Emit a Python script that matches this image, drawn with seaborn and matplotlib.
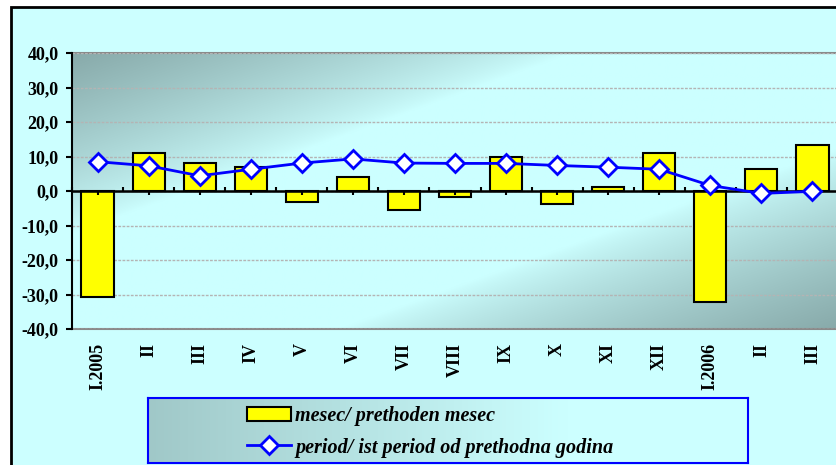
import numpy as np
import pandas as pd
import matplotlib
matplotlib.use("Agg")
import matplotlib.pyplot as plt
import seaborn as sns
from matplotlib.patches import Rectangle, Patch
from matplotlib.lines import Line2D
from matplotlib.ticker import FuncFormatter, MultipleLocator, FixedLocator

# ---- data ----
categories = ["I.2005", "II", "III", "IV", "V", "VI", "VII", "VIII", "IX",
              "X", "XI", "XII", "I.2006", "II", "III"]
mesec = [-30.6, 10.9, 8.0, 7.0, -3.1, 4.0, -5.4, -1.8, 9.9, -3.7, 1.2, 10.9,
         -32.1, 6.4, 13.3]
period = [8.5, 7.3, 4.4, 6.3, 8.1, 9.3, 8.1, 8.0, 8.0, 7.4, 6.9, 6.3, 1.6,
          -0.7, -0.1]
label_bar = "mesec/ prethoden mesec"
label_line = "period/ ist period od prethodna godina"

plt.rcParams['font.family'] = ['Liberation Serif', 'DejaVu Serif']

W, H = 836, 465
fig = plt.figure(figsize=(W / 100, H / 100), dpi=100, facecolor="white")

# outer frame
frame = Rectangle((11 / W, -0.1), 1.2, 1 - 7 / H + 0.1, transform=fig.transFigure,
                  facecolor="#ccffff", edgecolor="black", lw=2, zorder=-1)
fig.add_artist(frame)

ax = fig.add_axes([72 / W, (H - 329) / H, (838 - 72) / W, (329 - 53) / H])

# gradient background of the plot area
dark = np.array([136, 170, 170]) / 255
light = np.array([204, 255, 255]) / 255
n = 300
uu, vv = np.meshgrid(np.linspace(0, 1, n), np.linspace(1, 0, n))
t = (uu + (1 - vv)) / 2
d = np.abs(t - 0.5) * 2
w = np.clip((d - 0.35) / 0.65, 0, 1) ** 0.8
img = light[None, None, :] + (dark - light)[None, None, :] * w[..., None]
ax.imshow(img, extent=[0, 1, 0, 1], transform=ax.transAxes, aspect="auto",
          zorder=0, interpolation="bilinear")

df = pd.DataFrame({"pos": np.arange(len(categories)), "mesec": mesec,
                   "period": period})

sns.barplot(data=df, x="pos", y="mesec", color="#ffff00", edgecolor="black",
            linewidth=1.5, width=0.63, saturation=1, ax=ax, zorder=3)
ax.axhline(0, color="black", lw=1.8, zorder=4)
sns.lineplot(data=df, x="pos", y="period", color="#0000ff", lw=2, marker="D",
             markersize=9, markerfacecolor="white", markeredgecolor="#0000ff",
             markeredgewidth=2, ax=ax, zorder=5)

ax.set_xlim(-0.5, len(categories) - 0.5)
ax.set_ylim(-40, 40)
ax.set_xlabel("")
ax.set_ylabel("")

# grid
ax.yaxis.set_major_locator(MultipleLocator(10))
ax.grid(axis="y", color="#b4b4b4", lw=1, ls=(0, (2, 1)), zorder=1)
ax.grid(axis="x", visible=False)
ax.set_axisbelow(False)
for g in ax.get_ygridlines():
    g.set_zorder(1)

for s in ["top", "bottom"]:
    ax.spines[s].set_color("#8a8a8a")
    ax.spines[s].set_linewidth(1.5)
    ax.spines[s].set_linestyle((0, (2, 1)))
ax.spines["right"].set_visible(False)
ax.spines["left"].set_color("black")
ax.spines["left"].set_linewidth(1.5)
ax.spines["left"].set_zorder(6)

ax.yaxis.set_major_formatter(FuncFormatter(lambda v, p: f"{v:.1f}".replace(".", ",")))
ax.tick_params(axis="y", direction="out", length=4.5, width=1.5, pad=5,
               labelsize=13, colors="black")
for lab in ax.get_yticklabels():
    lab.set_fontweight("bold")

ax.set_xticks(np.arange(len(categories)))
ax.set_xticklabels(categories, rotation=90, fontweight="bold", fontsize=13)
ax.tick_params(axis="x", length=0, pad=10)

# category axis at zero
sec = ax.secondary_xaxis(0.5)
sec.spines["bottom"].set_linewidth(1.8)
sec.spines["bottom"].set_color("black")
sec.spines["bottom"].set_zorder(4)
sec.xaxis.set_major_locator(FixedLocator(np.arange(len(categories) + 1) - 0.5))
sec.xaxis.set_minor_locator(FixedLocator(np.arange(len(categories))))
sec.tick_params(which="major", direction="out", length=3, width=1.5,
                labelbottom=False, labeltop=False)
sec.tick_params(which="minor", direction="in", length=3, width=1.5)
sec.set_zorder(4)

# legend background box
lax = fig.add_axes([148 / W, (H - 463) / H, (748 - 148) / W, (463 - 398) / H])
gx = np.linspace(0, 1, 300)
gw = np.clip(1 - gx / 0.7, 0, 1) ** 1.0
lgrad = light[None, :] + (np.array([160, 200, 200]) / 255 - light)[None, :] * gw[:, None]
lax.imshow(lgrad[None, :, :], extent=[0, 1, 0, 1], aspect="auto")
lax.set_xticks([])
lax.set_yticks([])
for s in lax.spines.values():
    s.set_color("#0000ff")
    s.set_linewidth(1.5)

handles = [Patch(facecolor="#ffff00", edgecolor="black", lw=1.5),
           Line2D([], [], color="#0000ff", lw=2, marker="D", markersize=9,
                  markerfacecolor="white", markeredgecolor="#0000ff",
                  markeredgewidth=2)]
leg = fig.legend(handles, [label_bar, label_line], loc="center left",
                 bbox_to_anchor=(247 / W, 1 - 432 / H), frameon=False,
                 borderpad=0, borderaxespad=0, handlelength=2.2,
                 handletextpad=0.2, labelspacing=0.55,
                 prop={"family": "Liberation Serif", "weight": "bold",
                       "style": "italic", "size": 14.5})

fig.savefig("out.png", dpi=100, facecolor="white")
